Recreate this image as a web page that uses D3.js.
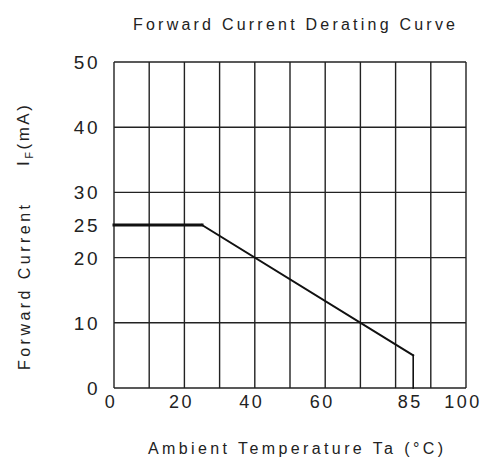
<!DOCTYPE html>
<html>
<head>
<meta charset="utf-8">
<script src="https://cdn.jsdelivr.net/npm/d3@7"></script>
<style>
  body { margin: 0; background: #fff; }
  text { font-family: "Liberation Sans", Arial, sans-serif; fill: #222; }
</style>
</head>
<body>
<script>
var width = 498;
var height = 461;

// derating curve: temperature (°C) vs max forward current (mA)
var tempPoints = [0, 25, 85, 85];
var currentPoints = [25, 25, 5, 0];

var xTickValues = [0, 20, 40, 60, 85, 100];
var yTickValues = [0, 10, 20, 25, 30, 40, 50];
var xGridValues = [0, 10, 20, 30, 40, 50, 60, 70, 80, 90, 100];
var yGridValues = [0, 10, 20, 30, 40, 50];

var svg = d3.select("body")
    .append("svg")
    .attr("width", width)
    .attr("height", height);

var x = d3.scaleLinear().domain([0, 100]).range([114, 466]);
var y = d3.scaleLinear().domain([0, 50]).range([388, 62]);

// grid
svg.selectAll(".vgrid")
    .data(xGridValues)
    .enter()
    .append("line")
    .attr("x1", function(d) { return x(d); })
    .attr("x2", function(d) { return x(d); })
    .attr("y1", y(0))
    .attr("y2", y(50))
    .attr("stroke", "#222")
    .attr("stroke-width", 1.4);

svg.selectAll(".hgrid")
    .data(yGridValues)
    .enter()
    .append("line")
    .attr("x1", x(0))
    .attr("x2", x(100))
    .attr("y1", function(d) { return y(d); })
    .attr("y2", function(d) { return y(d); })
    .attr("stroke", "#222")
    .attr("stroke-width", 1.4);

// curve, drawn segment by segment (flat part heavier like the original)
var pts = tempPoints.map(function(t, i) { return [t, currentPoints[i]]; });
var widths = [3, 2, 1.6];
for (var i = 0; i < pts.length - 1; i++) {
    svg.append("line")
        .attr("x1", x(pts[i][0]))
        .attr("y1", y(pts[i][1]))
        .attr("x2", x(pts[i + 1][0]))
        .attr("y2", y(pts[i + 1][1]))
        .attr("stroke", "#111")
        .attr("stroke-width", widths[i])
        .attr("stroke-linecap", "square");
}

// tick labels
svg.selectAll(".ylab")
    .data(yTickValues)
    .enter()
    .append("text")
    .attr("x", x(0) - 14)
    .attr("y", function(d) { return y(d) + 7; })
    .attr("text-anchor", "end")
    .attr("font-size", "19px")
    .attr("letter-spacing", "2.5px")
    .text(function(d) { return d; });

svg.selectAll(".xlab")
    .data(xTickValues)
    .enter()
    .append("text")
    .attr("x", function(d) { return x(d) - 3; })
    .attr("y", 408)
    .attr("text-anchor", "middle")
    .attr("font-size", "18px")
    .attr("letter-spacing", "2.5px")
    .text(function(d) { return d; });

// titles
svg.append("text")
    .attr("x", 133)
    .attr("y", 30)
    .attr("font-size", "16px")
    .attr("textLength", 322)
    .attr("lengthAdjust", "spacing")
    .text("Forward Current Derating Curve");

svg.append("text")
    .attr("x", 148)
    .attr("y", 454)
    .attr("font-size", "16px")
    .attr("textLength", 295)
    .attr("lengthAdjust", "spacing")
    .text("Ambient Temperature Ta (°C)");

svg.append("text")
    .attr("transform", "translate(30,370) rotate(-90)")
    .attr("font-size", "16px")
    .attr("textLength", 165)
    .attr("lengthAdjust", "spacing")
    .text("Forward Current");

var iLabel = svg.append("text")
    .attr("transform", "translate(29,166) rotate(-90)")
    .attr("font-size", "17px")
    .attr("letter-spacing", "2.5px");
iLabel.append("tspan").text("I");
iLabel.append("tspan").attr("font-size", "11px").attr("dy", 4).text("F");
iLabel.append("tspan").attr("dy", -4).text("(mA)");
</script>
</body>
</html>
